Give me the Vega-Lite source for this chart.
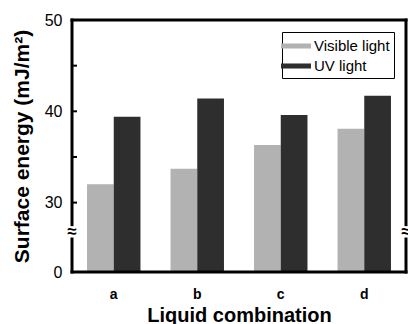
{
  "$schema": "https://vega.github.io/schema/vega-lite/v6.json",
  "width": 334,
  "height": 252,
  "autosize": "none",
  "padding": {"left": 72, "top": 20, "right": 2, "bottom": 52},
  "config": {
    "font": "Liberation Sans",
    "axis": {"grid": false, "domain": false}
  },
  "data": {
    "values": [
      {"combo": "a", "light": "Visible light", "energy": 32.0},
      {"combo": "a", "light": "UV light", "energy": 39.4},
      {"combo": "b", "light": "Visible light", "energy": 33.7},
      {"combo": "b", "light": "UV light", "energy": 41.4},
      {"combo": "c", "light": "Visible light", "energy": 36.3},
      {"combo": "c", "light": "UV light", "energy": 39.6},
      {"combo": "d", "light": "Visible light", "energy": 38.1},
      {"combo": "d", "light": "UV light", "energy": 41.7}
    ]
  },
  "layer": [
    {
      "mark": {"type": "bar"},
      "encoding": {
        "x": {
          "field": "combo",
          "type": "nominal",
          "scale": {"paddingInner": 0.36, "paddingOuter": 0.18},
          "title": "Liquid combination",
          "axis": {
            "labelAngle": 0,
            "labelFontSize": 14,
            "labelFontWeight": "bold",
            "labelColor": "black",
            "ticks": false,
            "labelPadding": 15,
            "titleFontSize": 20,
            "titleFontWeight": "bold",
            "titleColor": "black",
            "titlePadding": 4
          }
        },
        "xOffset": {"field": "light", "sort": ["Visible light", "UV light"], "scale": {"paddingInner": 0}},
        "y": {
          "field": "energy",
          "type": "quantitative",
          "scale": {"domain": [22.4, 50], "zero": false, "nice": false},
          "title": "Surface energy (mJ/m²)",
          "axis": {
            "values": [22.4, 30, 40, 50],
            "labelExpr": "datum.value < 25 ? '0' : datum.label",
            "labelFontSize": 16,
            "labelColor": "black",
            "ticks": false,
            "labelPadding": 10,
            "titleFontSize": 21,
            "titleFontWeight": "bold",
            "titleColor": "black",
            "titlePadding": 12
          }
        },
        "y2": {"datum": 22.4},
        "color": {
          "field": "light",
          "type": "nominal",
          "scale": {"domain": ["Visible light", "UV light"], "range": ["#b2b2b2", "#2e2e2e"]},
          "legend": {
            "title": null,
            "orient": "top-right",
            "offset": 12,
            "strokeColor": "black",
            "padding": 4,
            "symbolType": "M-1.67,-0.28H1.67V0.28H-1.67Z",
            "symbolSize": 324,
            "symbolOpacity": 1,
            "labelFontSize": 15,
            "labelColor": "black",
            "labelOffset": 8,
            "rowPadding": 2
          }
        }
      }
    },
    {
      "data": {"values": [{"edge": "left"}]},
      "mark": {"type": "rule", "color": "black", "strokeWidth": 3, "strokeCap": "square", "clip": false},
      "encoding": {
        "x": {"value": 0},
        "y": {"datum": 50},
        "y2": {"datum": 22.4}
      }
    },
    {
      "data": {"values": [{"edge": "right"}]},
      "mark": {"type": "rule", "color": "black", "strokeWidth": 3, "strokeCap": "square", "clip": false},
      "encoding": {
        "x": {"value": "width"},
        "y": {"datum": 50},
        "y2": {"datum": 22.4}
      }
    },
    {
      "data": {"values": [{"edge": "top"}]},
      "mark": {"type": "rule", "color": "black", "strokeWidth": 3, "strokeCap": "square", "clip": false},
      "encoding": {
        "y": {"datum": 50},
        "x": {"value": 0},
        "x2": {"value": "width"}
      }
    },
    {
      "data": {"values": [{"edge": "bottom"}]},
      "mark": {"type": "rule", "color": "black", "strokeWidth": 3, "strokeCap": "square", "clip": false},
      "encoding": {
        "y": {"datum": 22.4},
        "x": {"value": 0},
        "x2": {"value": "width"}
      }
    },
    {
      "data": {"values": [{"tick": 30}, {"tick": 35}, {"tick": 40}, {"tick": 45}]},
      "mark": {"type": "rule", "color": "black", "strokeWidth": 2, "clip": false},
      "encoding": {
        "y": {"field": "tick", "type": "quantitative"},
        "x": {"value": 0},
        "x2": {"value": 5}
      }
    },
    {
      "data": {"values": [{"side": "left"}]},
      "mark": {"type": "point", "shape": "square", "filled": true, "color": "white", "opacity": 1, "size": 130, "clip": false},
      "encoding": {
        "x": {"value": 0},
        "y": {"datum": 26.8}
      }
    },
    {
      "data": {"values": [{"side": "right"}]},
      "mark": {"type": "point", "shape": "square", "filled": true, "color": "white", "opacity": 1, "size": 130, "clip": false},
      "encoding": {
        "x": {"value": "width"},
        "y": {"datum": 26.8}
      }
    },
    {
      "data": {"values": [{"side": "left"}]},
      "mark": {"type": "text", "text": "≈", "fontSize": 17, "fontWeight": "bold", "color": "black", "align": "center", "baseline": "middle", "clip": false},
      "encoding": {
        "x": {"value": 0},
        "y": {"datum": 26.8}
      }
    },
    {
      "data": {"values": [{"side": "right"}]},
      "mark": {"type": "text", "text": "≈", "fontSize": 17, "fontWeight": "bold", "color": "black", "align": "center", "baseline": "middle", "clip": false},
      "encoding": {
        "x": {"value": "width"},
        "y": {"datum": 26.8}
      }
    }
  ]
}
